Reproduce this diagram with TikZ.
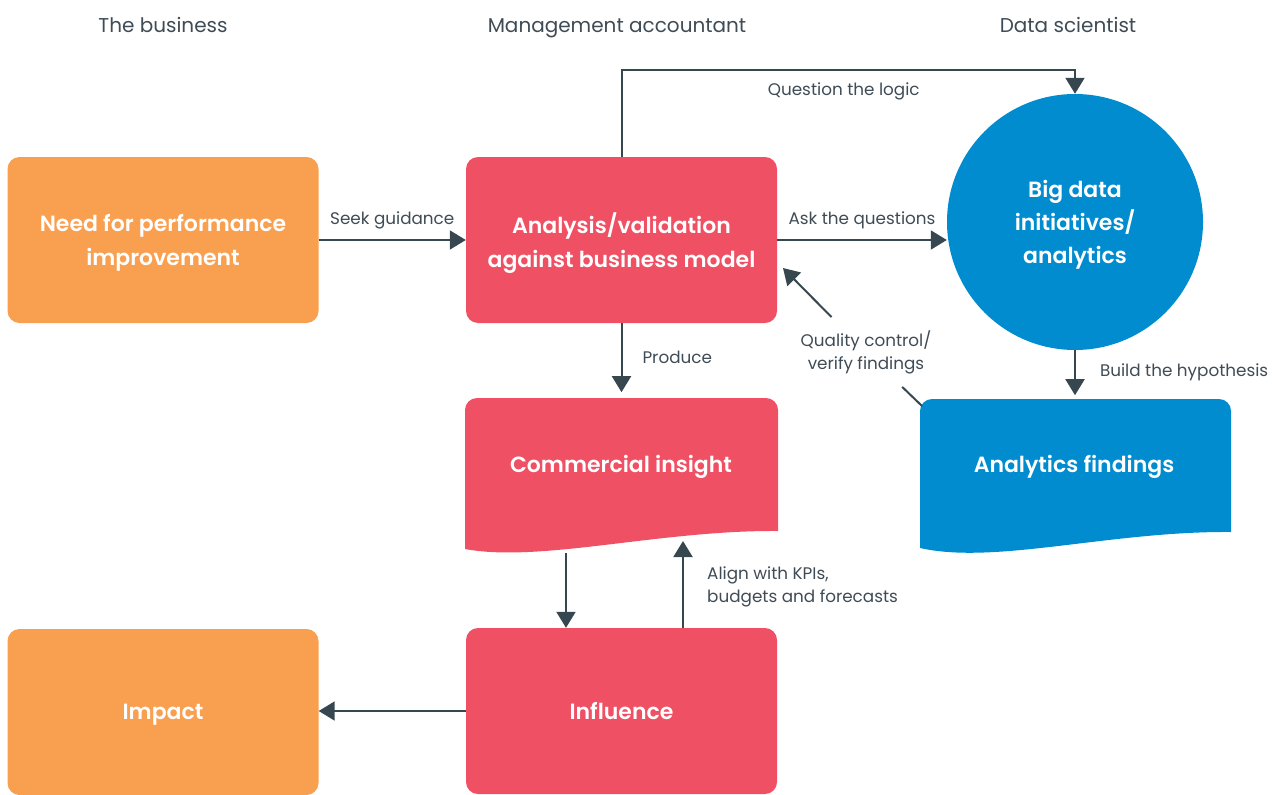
\documentclass[tikz,border=0pt]{standalone}
\usepackage{fontspec}
\setmainfont{Poppins}[BoldFont={Poppins SemiBold}]
\usetikzlibrary{arrows.meta,positioning,calc}

\definecolor{bizorange}{HTML}{F99F50}
\definecolor{accred}{HTML}{EF5064}
\definecolor{sciblue}{HTML}{008CCF}
\definecolor{arrowgrey}{HTML}{37474F}
\definecolor{textgrey}{HTML}{3F4B55}

\begin{document}
\begin{tikzpicture}[
    x=1pt, y=-1pt,
    stage/.style={rectangle, rounded corners=12pt, minimum width=311pt, minimum height=166pt, text=white, font=\fontsize{22}{34}\selectfont\bfseries, align=center, inner sep=0pt, text depth=0pt},
    business/.style={stage, fill=bizorange},
    account/.style={stage, fill=accred},
    science/.style={circle, fill=sciblue, minimum size=256pt, text=white, font=\fontsize{22}{33}\selectfont\bfseries, align=center, inner sep=0pt, text depth=0pt},
    doctext/.style={text=white, font=\fontsize{22}{34}\selectfont\bfseries},
    flow/.style={-{Triangle[length=16pt,width=19pt]}, line width=2pt, draw=arrowgrey},
    link/.style={line width=2pt, draw=arrowgrey},
    note/.style={font=\fontsize{16.8}{23}\selectfont, text=textgrey, inner sep=0pt},
    heading/.style={font=\fontsize{20}{24}\selectfont, text=textgrey, anchor=base}
]
\clip (0,0) rectangle (1275,795);

% Column headings
\node[heading] (hbiz) at (163,32) {The business};
\node[heading] (hacc) at (617,32) {Management accountant};
\node[heading] (hsci) at (1068,32) {Data scientist};

% Boxes
\node[business] (need) at (163,240) {Need for performance\\improvement};
\node[account] (analysis) at (621.5,240) {Analysis/validation\\against business model};
\node[science] (bigdata) at (1075,222) {Big data\\initiatives/\\analytics};
\node[account] (influence) at (621.5,711) {Influence};
\node[business] (impact) at (163,712) {Impact};

% Document shapes with wavy bottom
\fill[accred] (465,480) [rounded corners=12pt] -- (465,398) -- (778,398) -- (778,460) [sharp corners]
    -- (778,531) .. controls (660,530) and (540,563) .. (465,549) -- cycle;
\fill[sciblue] (920,480) [rounded corners=12pt] -- (920,399) -- (1231,399) -- (1231,460) [sharp corners]
    -- (1231,532) .. controls (1110,531) and (995,565) .. (920,548) -- cycle;
\coordinate (insightbot) at (566,553);
\coordinate (insightalign) at (683,541);
\coordinate (findingscorner) at (922,406);
\node[doctext] (insight) at (621,467) {Commercial insight};
\node[doctext] (findings) at (1074,467) {Analytics findings};

% Connectors
\draw[flow] (need.east) -- (analysis.west |- need.east) node[note, midway, above=10pt] {Seek guidance};
\draw[flow] (analysis.east) -- (analysis.east -| bigdata.west) node[note, midway, above=10pt] {Ask the questions};
\draw[flow] (analysis.north) -- ++(0,-87) -| (bigdata.north)
    node[note, pos=0.245, below=12pt] {Question the logic};
\draw[flow] (analysis.south) -- ++(0,69) node[note, midway, right=20pt] {Produce};
\draw[flow] (bigdata.south) -- ++(0,45) node[note, midway, right=24pt] {Build the hypothesis};
\node[note, align=center, inner sep=13pt] (qc) at (866,352) {Quality control/\\verify findings};
\draw[link] (findingscorner) -- (qc);
\draw[flow] (qc) -- (783,268) coordinate (qcend);
\draw[flow] (insightbot) -- (insightbot |- influence.north);
\draw[flow] (influence.north -| insightalign) -- (insightalign);
\node[note, align=left, anchor=west] (kpi) at (707,587) {Align with KPIs,\\budgets and forecasts};
\draw[flow] (influence.west) -- (impact.east |- influence.west);
\end{tikzpicture}
\end{document}
